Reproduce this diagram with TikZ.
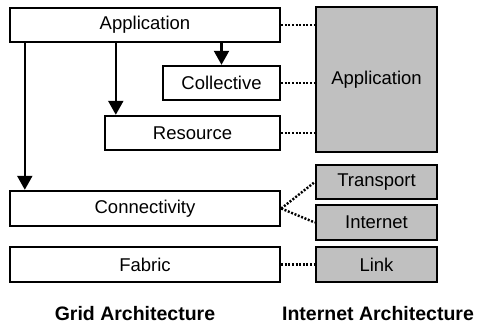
\documentclass[tikz,border=0pt]{standalone}
\usepackage{fontspec}
\setmainfont{Liberation Sans}
\usetikzlibrary{arrows.meta}
\begin{document}
\begin{tikzpicture}[x=1pt,y=-1pt,
  layer/.style={draw=black,line width=2.4pt,rectangle,inner sep=0pt,
    font=\fontsize{18.5}{20}\selectfont},
  gridbox/.style={layer,fill=white},
  netbox/.style={layer,fill={rgb,255:red,192;green,192;blue,192}},
  arr/.style={line width=2.2pt,-{Triangle[width=15pt,length=14pt]}},
  dots/.style={line width=2.4pt,dash pattern=on 2pt off 1.6pt},
  caption/.style={font=\bfseries\fontsize{19.5}{21}\selectfont}]
\useasboundingbox (0,0) rectangle (477,325);
% Grid architecture layers
\node[gridbox,minimum width=270,minimum height=34] (app) at (145,25) {Application};
\node[gridbox,minimum width=117,minimum height=34] (coll) at (221.5,83) {Collective};
\node[gridbox,minimum width=175,minimum height=34] (res) at (192.5,133) {Resource};
\node[gridbox,minimum width=270,minimum height=35] (conn) at (145,208.5) {Connectivity};
\node[gridbox,minimum width=270,minimum height=35] (fab) at (145,264.5) {Fabric};
% Internet architecture layers
\node[netbox,minimum width=121,minimum height=145] (iapp) at (376.5,79.5) {Application};
\node[netbox,minimum width=121,minimum height=34] (trans) at (376.5,182) {Transport};
\node[netbox,minimum width=121,minimum height=35] (inet) at (376.5,222.5) {Internet};
\node[netbox,minimum width=121,minimum height=35] (link) at (376.5,264.5) {Link};
% Arrows from the application layer
\draw[arr] (app.south -| coll.north) -- (coll.north);
\draw[arr] ([xshift=12]res.north west |- app.south) -- ([xshift=12]res.north west);
\draw[arr] ([xshift=16]conn.north west |- app.south) -- ([xshift=16]conn.north west);
% Correspondences between the two stacks
\draw[dots] (app.east) -- (app.east -| iapp.west);
\draw[dots] (coll.east) -- (coll.east -| iapp.west);
\draw[dots] (res.east) -- (res.east -| iapp.west);
\draw[dots] (conn.east) -- (trans.west);
\draw[dots] (conn.east) -- (inet.west);
\draw[dots] (fab.east) -- (link.west);
% Captions
\node[caption] (gridcap) at (135,314) {Grid Architecture};
\node[caption] (netcap) at (378,314) {Internet Architecture};
\end{tikzpicture}
\end{document}
